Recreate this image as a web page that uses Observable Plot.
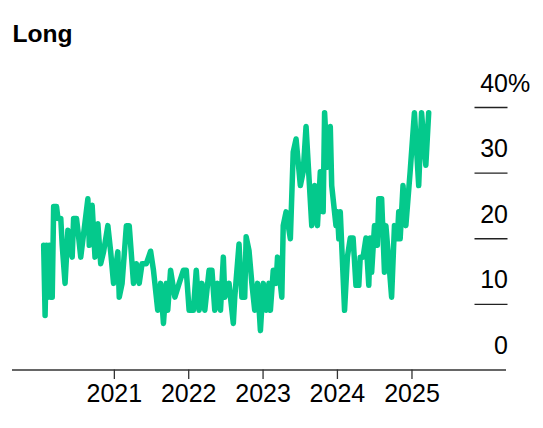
<!DOCTYPE html>
<html><head><meta charset="utf-8">
<script src="https://cdn.jsdelivr.net/npm/d3@7"></script>
<script src="https://cdn.jsdelivr.net/npm/@observablehq/plot@0.6"></script>
<style>
html,body{margin:0;padding:0;background:#fff;width:543px;height:428px;overflow:hidden}
#title{font:bold 24.6px "Liberation Sans",Arial,sans-serif;color:#000;height:60px;box-sizing:border-box;padding:21px 0 0 12.5px;line-height:26px}
svg{display:block}
</style></head><body>
<div id="title">Long</div>
<div id="chart"></div>
<script>
const title = "Long";
const startDate = new Date("2020-01-20");
const weeks = [0,1,2,3,4,5,6,7,9,10,12,13,15,17,20,21,23,24,26,31,32,34,36,38,40,42,45,47,49,52,53,55,58,60,63,65,67,69,72,75,77,80,82,84,86,87,89,92,95,98,100,102,105,107,109,111,113,116,118,120,122,124,126,127,130,131,133,134,137,139,141,142,144,146,148,150,152,154,156,158,159,161,163,164,167,168,170,173,175,177,180,182,184,188,190,192,194,196,197,199,201,202,205,206,207,208,211,213,215,217,219,221,222,224,226,228,229,230,232,234,235,237,239,240,242,244,246,248,249,250,252,254,257,260,263,265,268,270];
const values = [19,8.3,19,11.1,19,11.1,11.1,24.9,24.9,23.1,23.1,19,13.2,21.3,17.2,23.1,23.1,21.3,17.2,26.1,19,25.1,17.2,22.3,16.2,18,22,18,13.2,18,11.1,13.2,22,22,13.2,16.2,13.2,16.2,16.2,18.1,15.2,9.1,13.2,7.1,13.2,9.1,15.2,11.1,13.2,15.2,15.2,9.1,9.1,15.2,9.1,13.2,9.1,15.2,15.2,9.1,13.2,9.1,17.2,11.1,13.2,11.1,7.1,11.1,19.2,11.1,11.1,20.3,18.2,13.2,9.1,13.2,6,13.2,9.1,13.2,9.1,15.2,13.2,17.2,11.1,22,24.1,20,33.2,35.2,28.1,30.2,37.1,22,28.1,22,30.2,24.1,39.2,30.9,37.1,28.1,22,24.1,20,24.1,9.1,17.2,20.1,20.1,12.9,12.9,17.2,17.2,20.1,12.9,20.1,14.9,22,19,26.1,26.1,14.9,22,16.7,11.1,22,20,24.1,20,28.1,22,30.2,39.2,28.1,39.2,31.2,39.2];
const yearTicks = ["2021-01-01","2022-01-01","2023-01-01","2024-01-01","2025-01-01"];
const yLabels = [0,10,20,30,40];
const yRules = [10,20,30,40];

const rows = weeks.map((w,i)=>({date:d3.utcWeek.offset(startDate,w),value:values[i]}));
const font = '"Liberation Sans",Arial,sans-serif';
const plot = Plot.plot({
  width:543,height:368,
  marginLeft:12,marginRight:37,marginTop:47,marginBottom:58.5,
  style:{fontFamily:font,background:"#fff",overflow:"visible"},
  x:{type:"utc",domain:[new Date("2019-08-20"),new Date("2026-04-10")]},
  y:{domain:[0,40],axis:null},
  marks:[
    Plot.ruleY(yRules,{stroke:"#222",strokeWidth:1.3,insetLeft:462.5,insetRight:-1.5}),
    Plot.ruleY([0],{stroke:"#333",strokeWidth:1.5}),
    Plot.axisX({
      ticks:yearTicks.map(d=>new Date(d)),
      tickFormat:d3.utcFormat("%Y"),
      tickSize:9.5,tickPadding:5,fontSize:25,stroke:"#333",
      strokeWidth:1.3,label:null,color:"#000"
    }),
    Plot.lineY(rows,{x:"date",y:"value",stroke:"#04c98c",strokeWidth:5.5,strokeLinejoin:"round",strokeLinecap:"round"}),
    Plot.text(yLabels,{y:d=>d,text:d=>String(d),frameAnchor:"right",textAnchor:"end",lineAnchor:"bottom",dx:1.5,dy:-16,fontSize:25,fill:"#000"}),
    Plot.text([40],{y:d=>d,text:()=>"%",frameAnchor:"right",textAnchor:"start",lineAnchor:"bottom",dx:1.5,dy:-16,fontSize:25,fill:"#000"})
  ]
});
document.getElementById("chart").appendChild(plot);
</script>
</body></html>
